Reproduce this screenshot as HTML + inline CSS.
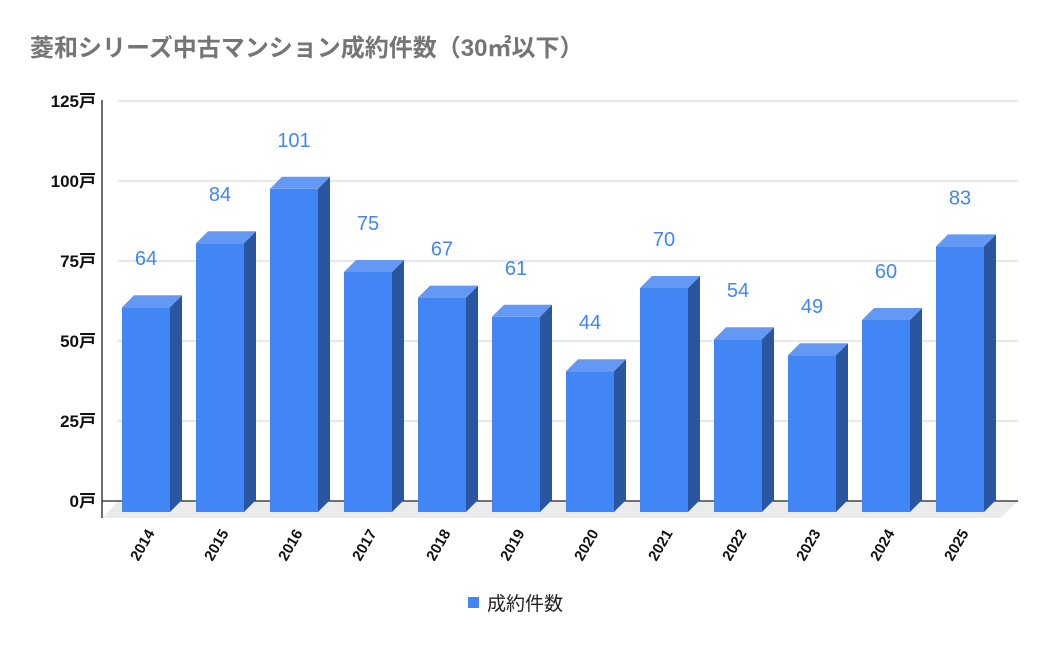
<!DOCTYPE html>
<html><head><meta charset="utf-8"><style>
body{margin:0;background:#fff}
svg{display:block;font-family:"Liberation Sans","Noto Sans CJK JP",sans-serif}
</style></head><body>
<svg id="c" width="1050" height="649">
<text x="30" y="56" font-size="24" font-weight="bold" fill="#757575">菱和シリーズ中古マンション成約件数（30㎡以下）</text>
<polygon points="118,501 1018,501 1000,518 103,518" fill="#ebebeb"/>
<g id="grid"></g>
<line x1="102" y1="100" x2="102" y2="518" stroke="#222" stroke-width="1.3"/>
<line x1="102" y1="501" x2="1018" y2="501" stroke="#222" stroke-width="1.3"/>
<g id="bars"></g>
<rect x="468" y="597" width="11" height="11" fill="#4285f4"/>
<text x="487" y="610" font-size="19" fill="#222">成約件数</text>
</svg>
<script>
const categories=["2014","2015","2016","2017","2018","2019","2020","2021","2022","2023","2024","2025"];
const values=[64,84,101,75,67,61,44,70,54,49,60,83];
const yTicks=[0,25,50,75,100,125];
const NS="http://www.w3.org/2000/svg";
const y0=512,pxPer=3.2,gy0=501;
function yScale(v){return y0-v*pxPer;}
function xScale(i){return 122+i*74;}
function mk(t,a,p){const e=document.createElementNS(NS,t);for(const k in a)e.setAttribute(k,a[k]);p.appendChild(e);return e;}
const grid=document.getElementById('grid'),bars=document.getElementById('bars');
yTicks.forEach(t=>{
  const y=gy0-t*pxPer;
  if(t>0){const l=mk('line',{x1:118,x2:1018,y1:y,y2:y,stroke:'#d0d0d0'},grid);
  
  }
  const tx=mk('text',{x:96,y:y+6,'text-anchor':'end','font-size':17,'font-weight':'bold',fill:'#111'},grid);
  tx.textContent=t+'戸';
  
  
});
const w=48,d=12;
categories.forEach((c,i)=>{
  const x=xScale(i),top=yScale(values[i]);
  const g=mk('g',{},bars);
  
  
  mk('rect',{x:x,y:top,width:w,height:y0-top,fill:'#4285f4'},g);
  mk('polygon',{points:`${x+w},${top} ${x+w+d},${top-d} ${x+w+d},${y0-d} ${x+w},${y0}`,fill:'#2a56a0'},g);
  mk('polygon',{points:`${x},${top} ${x+d},${top-d} ${x+w+d},${top-d} ${x+w},${top}`,fill:'#6399f5'},g);
  const v=mk('text',{x:x+w/2,y:top-d-30,'text-anchor':'middle','font-size':20,fill:'#4285f4'},bars);
  v.textContent=values[i];
  
  
  const cx=x+w/2+9,cy=533;
  const l=mk('text',{x:cx,y:cy,'text-anchor':'end','font-size':15,'font-weight':'bold',fill:'#111',transform:`rotate(-60 ${cx} ${cy})`},bars);
  l.textContent=c;
  
  
});
</script>
</body></html>
